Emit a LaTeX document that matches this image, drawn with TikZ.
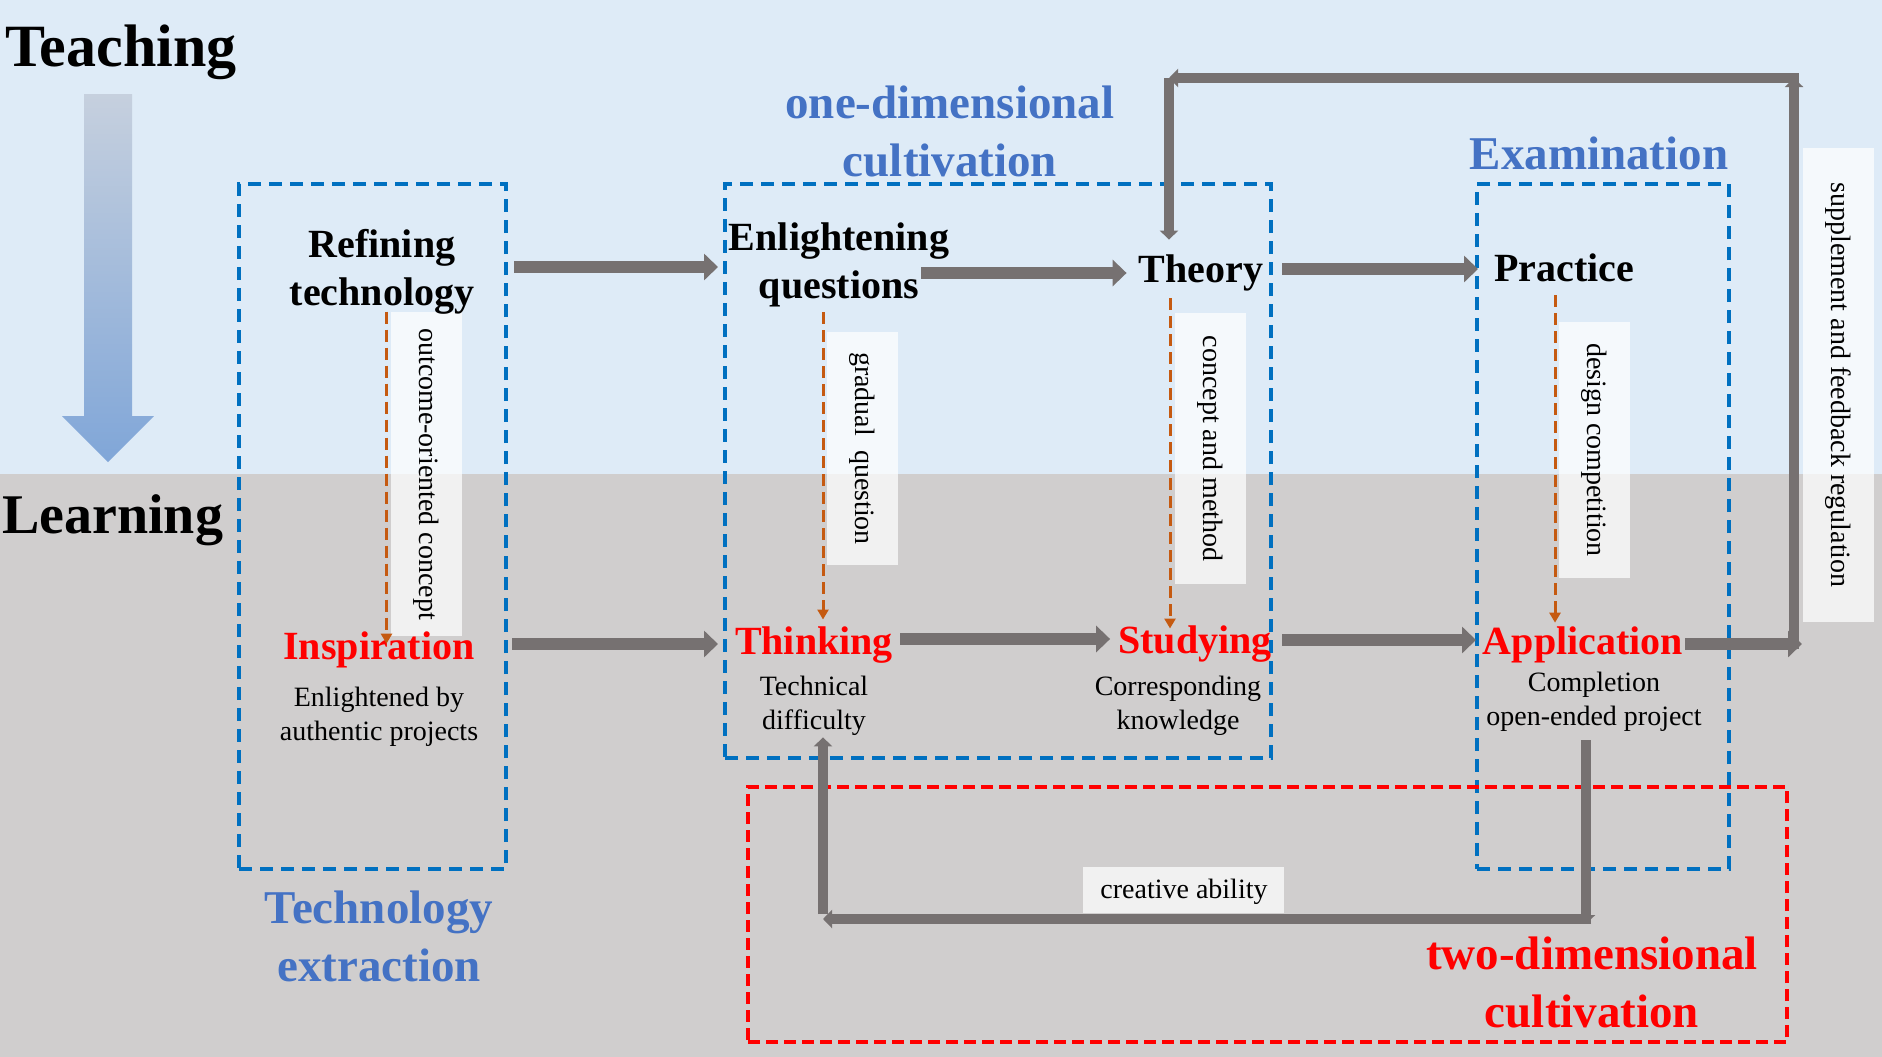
\documentclass[tikz,border=0pt]{standalone}
\usepackage{fontspec}
\setmainfont{Liberation Serif}
\usetikzlibrary{arrows.meta,positioning}
\definecolor{skyband}{HTML}{DEEBF7}
\definecolor{greyband}{HTML}{D0CECE}
\definecolor{boxblue}{HTML}{0070C0}
\definecolor{labelblue}{HTML}{4472C4}
\definecolor{keyred}{HTML}{FF0000}
\definecolor{flowgray}{HTML}{767171}
\definecolor{linkorange}{HTML}{C55A11}
\definecolor{shafttop}{HTML}{C6D0DE}
\definecolor{shaftbot}{HTML}{80A6D8}
\tikzset{
  stagenode/.style={font=\fontsize{40}{48}\selectfont\bfseries, align=center, inner sep=2pt},
  keynode/.style={stagenode, text=keyred},
  notenode/.style={font=\fontsize{28}{34}\selectfont, align=center, inner sep=2pt},
  grouplabel/.style={font=\fontsize{47}{58}\selectfont\bfseries, align=center, text=labelblue},
  groupbox/.style={draw=boxblue, line width=4pt, dash pattern=on 13pt off 8pt, inner sep=0pt},
  tagbox/.style={fill=white, fill opacity=0.72, text opacity=1, rotate=-90,
    font=\fontsize{28}{34}\selectfont, inner sep=0pt, minimum height=71pt},
  flowarrow/.style={-{Triangle[length=14pt,width=26pt]}, line width=12pt, draw=flowgray},
  loopline/.style={-{Triangle[length=9pt,width=18pt]}, line width=10pt, draw=flowgray},
  linkarrow/.style={-{Triangle[length=10pt,width=11pt]}, line width=3pt, draw=linkorange,
    dash pattern=on 12pt off 6pt},
}
\begin{document}
\begin{tikzpicture}[x=1pt,y=-1pt]
  \useasboundingbox (0,0) rectangle (1882,1057);
  \fill[skyband] (0,0) rectangle (1882,474);
  \fill[greyband] (0,474) rectangle (1882,1057);
  \shade[top color=shafttop, bottom color=shaftbot] (84,94) -- (132,94) -- (132,416) -- (154,416)
    -- (108,462) -- (62,416) -- (84,416) -- cycle;

  \node[font=\fontsize{60}{62}\selectfont\bfseries, anchor=west, inner sep=0pt] (teach) at (5,52) {Teaching};
  \node[font=\fontsize{56}{58}\selectfont\bfseries, anchor=west, inner sep=0pt] (learn) at (2,520) {Learning};

  \node[groupbox, minimum width=267pt, minimum height=685pt] (extractbox) at (372.5,526.5) {};
  \node[groupbox, minimum width=546pt, minimum height=574pt] (onedimbox) at (998,471) {};
  \node[groupbox, minimum width=252pt, minimum height=685pt] (exambox) at (1603,526.5) {};
  \node[groupbox, draw=keyred, dash pattern=on 12pt off 6pt, minimum width=1039pt,
    minimum height=255pt] (twodimbox) at (1267.5,914.5) {};

  \node[tagbox, minimum width=324pt] (outtag) at (426.5,474) {outcome-oriented concept};
  \node[tagbox, minimum width=233pt] (gradtag) at (862.5,448.5) {gradual\ \ question};
  \node[tagbox, minimum width=271pt] (methtag) at (1210.5,448.5) {concept and method};
  \node[tagbox, minimum width=256pt] (desitag) at (1594.5,450) {design competition};
  \node[tagbox, minimum width=474pt] (feedtag) at (1838.5,385) {supplement and feedback regulation\hspace{22pt}};

  \node[stagenode] (refine) at (382,272) {Refining\\technology};
  \node[keynode] (insp) at (379,650) {Inspiration};
  \node[notenode, below=15pt of insp] (inspnote) {Enlightened by\\authentic projects};
  \node[stagenode] (enq) at (839,265) {Enlightening\\questions};
  \node[stagenode] (theory) at (1201,273) {Theory};
  \node[stagenode] (practice) at (1564,268) {Practice};
  \node[keynode] (think) at (814,645) {Thinking};
  \node[notenode, below=8pt of think] (thinknote) {Technical\\difficulty};
  \node[keynode] (study) at (1195,644) {Studying};
  \node[notenode, below=9pt of study, xshift=-17pt] (studynote) {Corresponding\\knowledge};
  \node[keynode] (app) at (1583,645) {Application};
  \node[notenode, below=5pt of app, xshift=11pt] (appnote) {Completion\\open-ended project};

  \node[grouplabel] (extractlbl) at (379,936) {Technology\\extraction};
  \node[grouplabel] (onedimlbl) at (950,131) {one-dimensional\\cultivation};
  \node[grouplabel] (examlbl) at (1599,153) {Examination};
  \node[grouplabel, text=keyred] (twodimlbl) at (1592,982) {two-dimensional\\cultivation};

  \draw[flowarrow] ([xshift=6pt,yshift=5pt]extractbox.east |- refine) -- ([xshift=-5pt,yshift=5pt]onedimbox.west |- refine);
  \draw[flowarrow, shorten >=10pt] ([xshift=-30pt]enq.east |- theory) -- (theory.west);
  \draw[flowarrow] ([xshift=9pt,yshift=4pt]onedimbox.east |- theory) -- ([xshift=3pt,yshift=4pt]exambox.west |- theory);
  \draw[flowarrow] ([xshift=4pt,yshift=6pt]extractbox.east |- insp) -- ([xshift=-5pt,yshift=6pt]onedimbox.west |- insp);
  \draw[flowarrow] ([xshift=5pt,yshift=6pt]think.east) -- ([xshift=-6pt,yshift=6pt]think.east -| study.west);
  \draw[flowarrow] ([xshift=9pt,yshift=4pt]onedimbox.east |- study) -- ([xshift=1pt,yshift=4pt]exambox.west |- study);

  \coordinate (fbbot) at (1794,644);
  \coordinate (fbtop) at (1794,78);
  \coordinate (fbleft) at (1169,78);
  \draw[flowarrow] (app.east |- fbbot) -- ([xshift=8pt]fbbot);
  \draw[loopline] ([yshift=-5pt]fbbot) -- (fbtop);
  \draw[loopline] ([xshift=5pt]fbtop) -- (fbleft);
  \draw[loopline, shorten >=13pt] (fbleft) -- (theory.north -| fbleft);

  \coordinate (crright) at (1586,919);
  \coordinate (crleft) at (823,919);
  \draw[loopline] ([yshift=-6pt]appnote.south -| crright) -- ([yshift=-5pt]crright);
  \draw[loopline] ([yshift=5pt]crleft) -- (crleft |- thinknote.south);
  \draw[loopline] ([xshift=5pt]crright) -- (crleft)
    node[pos=0.53, above=1pt, fill=white, fill opacity=0.72, text opacity=1, font=\fontsize{28}{34}\selectfont,
      minimum width=201pt, minimum height=46pt, inner sep=0pt, text depth=2pt] (ability) {creative ability};

  \draw[linkarrow] ([xshift=4.5pt,yshift=5pt]refine.south) -- ([xshift=4.5pt,yshift=-14pt]refine.south |- insp.north);
  \draw[linkarrow] ([xshift=-16pt,yshift=-3pt]enq.south) -- ([xshift=-16pt,yshift=5pt]enq.south |- think.north);
  \draw[linkarrow] ([xshift=-31pt,yshift=-5pt]theory.south) -- ([xshift=-31pt,yshift=-5pt]theory.south |- study.north);
  \draw[linkarrow] ([xshift=-9pt,yshift=-11pt]practice.south) -- ([xshift=-9pt,yshift=2pt]practice.south |- app.north);
\end{tikzpicture}
\end{document}
